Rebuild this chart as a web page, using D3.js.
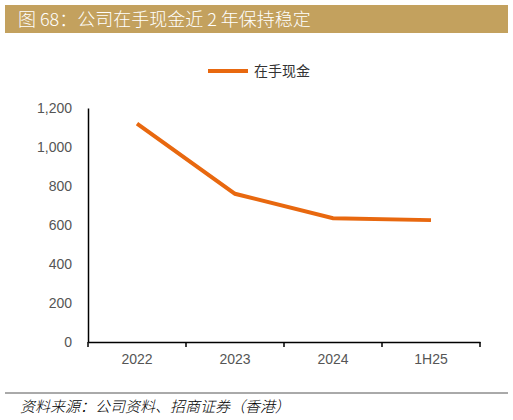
<!DOCTYPE html><html><head><meta charset="utf-8"><script src="https://cdn.jsdelivr.net/npm/d3@7"></script>
<style>body{margin:0;background:#fff}</style></head><body><svg id="c" width="513" height="420"></svg>
<script>
const categories=["2022","2023","2024","1H25"];
const cash=[1120,760,635,625];
const yTicks=[0,200,400,600,800,1000,1200];
const svg=d3.select("#c");
const F="'Noto Sans CJK SC',sans-serif";
const A="'Liberation Sans',Arial,sans-serif";
svg.append("rect").attr("x",5).attr("y",5).attr("width",503).attr("height",28).attr("fill","#c3a15e");
svg.append("text").attr("x",18).attr("y",26).attr("fill","#fff").attr("font-family",F).attr("font-weight",300).attr("font-size",18).text("图 68：公司在手现金近 2 年保持稳定");
const x=d3.scaleBand().domain(categories).range([88,480]);
const y=d3.scaleLinear().domain([0,1200]).range([342,108]);
const xa=svg.append("g").attr("transform","translate(0,342)").call(d3.axisBottom(x).tickSize(0).tickPadding(12));
xa.select(".domain").attr("stroke","#000").attr("stroke-width",1.5);
xa.selectAll("text").attr("font-family",A).attr("font-size",14).attr("fill","#555");
xa.selectAll(".b").data(x.domain().concat([null])).enter().append("line").attr("x1",(d,i)=>88+i*x.bandwidth()).attr("x2",(d,i)=>88+i*x.bandwidth()).attr("y1",0).attr("y2",5).attr("stroke","#000").attr("stroke-width",1.5);
const ya=svg.append("g").attr("transform","translate(88,0)").call(d3.axisLeft(y).tickValues(yTicks).tickSize(0).tickPadding(16).tickFormat(d3.format(",")));
ya.select(".domain").attr("stroke","#000").attr("stroke-width",1.5);
ya.selectAll("text").attr("font-family",A).attr("font-size",14).attr("fill","#555");
const line=d3.line().x((d,i)=>x(categories[i])+x.bandwidth()/2).y(d=>y(d));
svg.append("path").datum(cash).attr("d",line).attr("fill","none").attr("stroke","#e8680f").attr("stroke-width",4);
svg.append("line").attr("x1",208).attr("x2",248).attr("y1",71).attr("y2",71).attr("stroke","#e8680f").attr("stroke-width",4);
svg.append("text").attr("x",254).attr("y",76).attr("font-family",F).attr("font-size",14).attr("fill","#333").text("在手现金");
svg.append("line").attr("x1",5).attr("x2",508).attr("y1",393).attr("y2",393).attr("stroke","#555").attr("stroke-width",1);
svg.append("text").attr("x",20).attr("y",412).attr("font-family",F).attr("font-style","italic").attr("font-weight",300).attr("font-size",15).attr("fill","#000").text("资料来源：公司资料、招商证券（香港）");
</script></body></html>
